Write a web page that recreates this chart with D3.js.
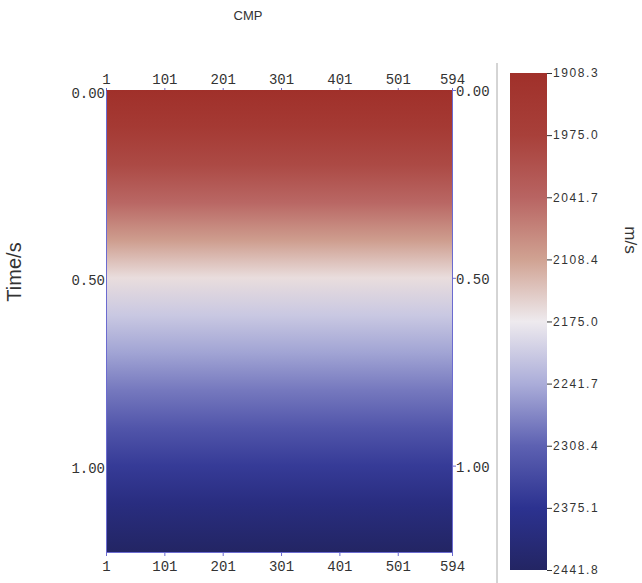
<!DOCTYPE html>
<html>
<head>
<meta charset="utf-8">
<script src="https://cdn.jsdelivr.net/npm/d3@7"></script>
<style>
body{margin:0;background:#fff;}
.axis text{font-family:"Liberation Mono",monospace;font-size:14px;fill:#333;}
.axis path,.axis line{stroke:#6b6bd0;}
.bar-axis text{font-family:"Liberation Sans",Arial,sans-serif;font-size:12px;fill:#333;letter-spacing:1.6px;}
.bar-axis line{stroke:#333;}
</style>
</head>
<body>
<div class="chart"></div>
<script>
// CMP and time ticks
const cmpTicks = [1, 101, 201, 301, 401, 501, 594];
const timeTicks = [0, 0.5, 1.0];

// velocity profile (same for every CMP)
const timeSamples = [0, 0.1, 0.2, 0.3, 0.4, 0.5, 0.6, 0.7, 0.8, 0.9, 1.0, 1.1, 1.2, 1.23];
const velocity = [1908, 1948, 1993, 2045, 2103, 2163, 2212, 2250, 2288, 2325, 2362, 2399, 2432, 2441];

// colour bar
const barTicks = [1908.3, 1975.0, 2041.7, 2108.4, 2175.0, 2241.7, 2308.4, 2375.1, 2441.8];
const barColors = ["#a0302a", "#a8403a", "#b86462", "#d0a292", "#eeeaee", "#abadd9", "#5d61b2", "#2c3290", "#232563"];

const W = 642, H = 583;
const svg = d3.select(".chart").append("svg")
    .attr("width", W)
    .attr("height", H);

const xScale = d3.scaleLinear().domain([1, 594]).range([106, 452]);
const yScale = d3.scaleLinear().domain([0, 1.23]).range([90, 552]);
const colorScale = d3.scaleLinear().domain(barTicks).range(barColors);

const defs = svg.append("defs");

// heat map: one gradient following the velocity samples down the section
const grad = defs.append("linearGradient")
    .attr("id", "vgrad")
    .attr("x1", 0).attr("y1", 0).attr("x2", 0).attr("y2", 1);
grad.selectAll("stop")
    .data(timeSamples)
    .enter()
    .append("stop")
    .attr("offset", d => (yScale(d) - yScale(0)) / (yScale(1.23) - yScale(0)))
    .attr("stop-color", (d, i) => colorScale(velocity[i]));

svg.append("rect")
    .attr("x", xScale(1))
    .attr("y", yScale(0))
    .attr("width", xScale(594) - xScale(1))
    .attr("height", yScale(1.23) - yScale(0))
    .attr("fill", "url(#vgrad)");

// axes
svg.append("g")
    .attr("class", "axis")
    .attr("transform", `translate(0,${yScale(0)})`)
    .call(d3.axisTop(xScale).tickValues(cmpTicks).tickSize(2).tickPadding(4).tickSizeOuter(0))
    .call(g => g.select(".domain").remove());

svg.append("g")
    .attr("class", "axis")
    .attr("transform", `translate(0,${yScale(1.23)})`)
    .call(d3.axisBottom(xScale).tickValues(cmpTicks).tickSize(4).tickPadding(5).tickSizeOuter(0));

svg.append("g")
    .attr("class", "axis")
    .attr("transform", `translate(${xScale(1)},0)`)
    .call(d3.axisLeft(yScale).tickValues(timeTicks).tickFormat(d3.format(".2f")).tickSize(0).tickPadding(1).tickSizeOuter(0))
    .call(g => g.selectAll("text").attr("dy", "0.5em"));

svg.append("g")
    .attr("class", "axis")
    .attr("transform", `translate(${xScale(594)},0)`)
    .call(d3.axisRight(yScale).tickValues(timeTicks).tickFormat(d3.format(".2f")).tickSize(4).tickPadding(0).tickSizeOuter(0))
    .call(g => g.selectAll("text").attr("dy", "0.4em"));

svg.append("text")
    .attr("x", 248)
    .attr("y", 20)
    .attr("text-anchor", "middle")
    .style("font-family", "Liberation Sans, Arial, sans-serif")
    .style("font-size", "13px")
    .style("fill", "#333")
    .text("CMP");

svg.append("text")
    .attr("transform", "translate(21,272) rotate(-90)")
    .attr("text-anchor", "middle")
    .style("font-family", "Liberation Sans, Arial, sans-serif")
    .style("font-size", "20px")
    .style("fill", "#333")
    .text("Time/s");

// separator
svg.append("line")
    .attr("x1", 497).attr("x2", 497)
    .attr("y1", 63).attr("y2", 583)
    .attr("stroke", "#aaa");

// colour bar
const barY = d3.scaleLinear().domain([1908.3, 2441.8]).range([73, 570]);
const bgrad = defs.append("linearGradient")
    .attr("id", "bgrad")
    .attr("x1", 0).attr("y1", 0).attr("x2", 0).attr("y2", 1);
bgrad.selectAll("stop")
    .data(barTicks)
    .enter()
    .append("stop")
    .attr("offset", d => (barY(d) - 73) / (570 - 73))
    .attr("stop-color", d => colorScale(d));

svg.append("rect")
    .attr("x", 510)
    .attr("y", 73)
    .attr("width", 37)
    .attr("height", 497)
    .attr("fill", "url(#bgrad)");

svg.append("g")
    .attr("class", "bar-axis")
    .attr("transform", "translate(547,0)")
    .call(d3.axisRight(barY).tickValues(barTicks).tickFormat(d3.format(".1f")).tickSize(5).tickPadding(1).tickSizeOuter(0))
    .call(g => g.select(".domain").remove());

svg.append("text")
    .attr("transform", "translate(625,240) rotate(90)")
    .attr("text-anchor", "middle")
    .style("font-family", "Liberation Sans, Arial, sans-serif")
    .style("font-size", "17px")
    .style("fill", "#333")
    .text("m/s");
</script>
</body>
</html>
